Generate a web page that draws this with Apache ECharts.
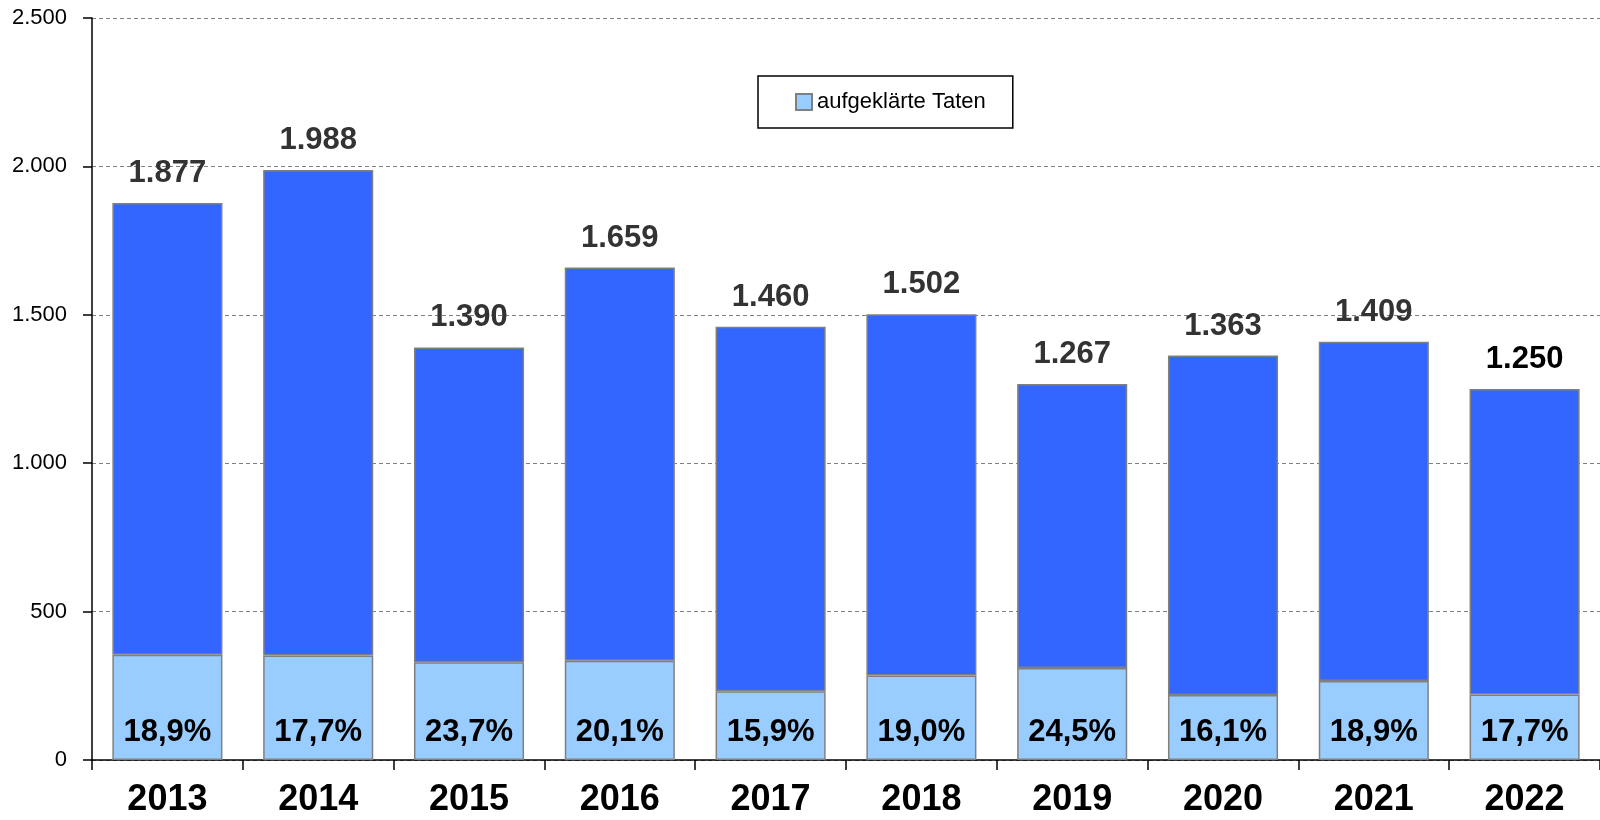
<!DOCTYPE html>
<html>
<head>
<meta charset="utf-8">
<script src="https://cdn.jsdelivr.net/npm/echarts@6/dist/echarts.min.js"></script>
<style>
html,body{margin:0;padding:0;background:#fff;}
#chart{width:1600px;height:820px;}
</style>
</head>
<body>
<div id="chart"></div>
<script>
const years = ['2013','2014','2015','2016','2017','2018','2019','2020','2021','2022'];
const totals = [1877, 1988, 1390, 1659, 1460, 1502, 1267, 1363, 1409, 1250];
const aufgeklaert = [355, 352, 329, 334, 232, 285, 310, 219, 266, 221];
const quoten = [18.9, 17.7, 23.7, 20.1, 15.9, 19.0, 24.5, 16.1, 18.9, 17.7];
const yTicks = [0, 500, 1000, 1500, 2000, 2500];

const rest = totals.map((t, i) => t - aufgeklaert[i]);

function fmtThousands(v) {
  const s = String(Math.round(v));
  return s.replace(/\B(?=(\d{3})+(?!\d))/g, '.');
}
function fmtPct(v) {
  return v.toFixed(1).replace('.', ',') + '%';
}

const FONT = '"Liberation Sans", Arial, sans-serif';
const chart = echarts.init(document.getElementById('chart'), null, {renderer: 'canvas'});

chart.setOption({
  animation: false,
  backgroundColor: '#ffffff',
  grid: {left: 92, right: 0, top: 18, bottom: 60, containLabel: false},
  legend: {
    data: ['aufgeklärte Taten'],
    icon: 'rect',
    left: 758, top: 76,
    orient: 'horizontal',
    backgroundColor: '#ffffff',
    borderColor: '#000000',
    borderWidth: 1.5,
    borderRadius: 0,
    padding: [15, 27, 15, 37],
    itemWidth: 16, itemHeight: 16,
    itemGap: 6,
    textStyle: {fontFamily: FONT, fontSize: 22, color: '#000'}
  },
  xAxis: {
    type: 'category',
    data: years,
    boundaryGap: true,
    axisLine: {show: true, lineStyle: {color: '#000', width: 1.5}},
    axisTick: {show: true, length: 10, lineStyle: {color: '#000', width: 1.5}},
    axisLabel: {fontFamily: FONT, fontSize: 36, fontWeight: 'bold', color: '#000', margin: 22}
  },
  yAxis: {
    type: 'value',
    min: yTicks[0], max: yTicks[yTicks.length - 1], interval: 500,
    axisLine: {show: true, lineStyle: {color: '#000', width: 1.5}},
    axisTick: {show: true, length: 9, lineStyle: {color: '#000', width: 1.5}},
    axisLabel: {fontFamily: FONT, fontSize: 22, color: '#000', margin: 25,
      formatter: v => fmtThousands(v)},
    splitLine: {show: true, lineStyle: {color: '#808080', width: 1, type: [4, 3]}}
  },
  series: [
    {
      name: 'aufgeklärte Taten',
      type: 'bar',
      stack: 'total',
      barWidth: '73%',
      data: aufgeklaert,
      itemStyle: {color: '#99CCFF', borderColor: '#808080', borderWidth: 1.5},
      label: {
        show: true, position: 'insideBottom', distance: 12,
        fontFamily: FONT, fontSize: 31, fontWeight: 'bold', color: '#000',
        formatter: p => fmtPct(quoten[p.dataIndex])
      }
    },
    {
      name: 'Taten gesamt',
      type: 'bar',
      stack: 'total',
      barWidth: '73%',
      data: rest.map((v, i) => ({
        value: v,
        label: {color: i === rest.length - 1 ? '#000000' : '#333333'}
      })),
      itemStyle: {color: '#3366FF', borderColor: '#808080', borderWidth: 1.5},
      label: {
        show: true, position: 'top', distance: 14,
        fontFamily: FONT, fontSize: 31, fontWeight: 'bold', color: '#333333',
        formatter: p => fmtThousands(totals[p.dataIndex])
      }
    }
  ]
});
</script>
</body>
</html>
